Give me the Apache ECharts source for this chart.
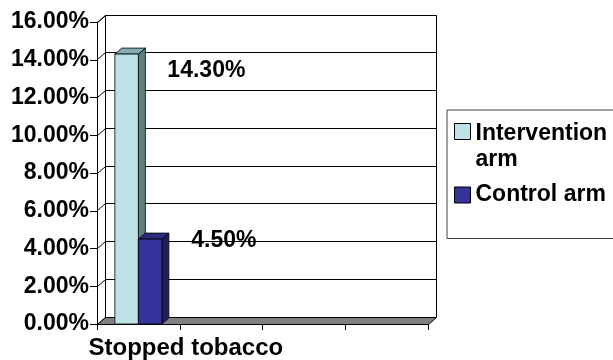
<!DOCTYPE html>
<html>
<head>
<meta charset="utf-8">
<script src="https://cdn.jsdelivr.net/npm/echarts@6/dist/echarts.min.js"></script>
<style>
  html, body { margin: 0; padding: 0; background: #fff; }
  #chart { width: 613px; height: 360px; }
</style>
</head>
<body>
<div id="chart"></div>
<script>
// Share of participants who stopped tobacco, by study arm (percent)
const categories = ['Stopped tobacco', '', '', ''];
const interventionArm = [14.3];
const controlArm = [4.5];
const seriesNames = ['Intervention arm', 'Control arm'];
const yTicks = [0, 2, 4, 6, 8, 10, 12, 14, 16];

const FONT = '"Liberation Sans", Arial, Helvetica, sans-serif';
const WALL_DEPTH = [8, -7];   // offset of the back wall from the front plane
const BAR_DEPTH = [7, -6];    // depth of each column
const BAR_RATIO = 0.284;      // column width relative to the category band

const crisp = v => Math.round(v - 0.5) + 0.5;

// Back wall, side wall, floor and the gridlines on the walls
function renderWalls(params, api) {
  const cs = params.coordSys;
  const [dx, dy] = WALL_DEPTH;
  const x0 = crisp(cs.x), x1 = crisp(cs.x + cs.width);
  const yTop = crisp(api.coord([0, yTicks[yTicks.length - 1]])[1]);
  const yBase = crisp(api.coord([0, 0])[1]);
  const children = [];
  children.push({
    type: 'rect',
    shape: { x: x0 + dx, y: yTop + dy, width: x1 - x0, height: yBase - yTop },
    style: { fill: '#fff', stroke: '#000', lineWidth: 1 }
  });
  children.push({
    type: 'polygon',
    shape: { points: [[x0, yTop], [x0 + dx, yTop + dy], [x0 + dx, yBase + dy], [x0, yBase]] },
    style: { fill: '#fff', stroke: '#000', lineWidth: 1 }
  });
  yTicks.forEach(v => {
    if (v === 0) return;
    const y = crisp(api.coord([0, v])[1]);
    children.push({
      type: 'polyline',
      shape: { points: [[x0, y], [x0 + dx, y + dy], [x1 + dx, y + dy]] },
      style: { fill: null, stroke: '#000', lineWidth: 1 }
    });
  });
  children.push({
    type: 'polygon',
    shape: { points: [[x0, yBase], [x1, yBase], [x1 + dx, yBase + dy], [x0 + dx, yBase + dy]] },
    style: { fill: '#808080', stroke: '#000', lineWidth: 1 }
  });
  return { type: 'group', children: children };
}

// 3D column with its value label
function columnRenderer(slot, slotCount, shades, labelOffset) {
  return function (params, api) {
    const cat = api.value(0);
    const val = api.value(1);
    const band = api.size([1, 0])[0];
    const w = band * BAR_RATIO;
    const center = api.coord([cat, 0])[0];
    const xL = center - w * slotCount / 2 + slot * w;
    const xR = xL + w;
    const yT = api.coord([cat, val])[1];
    const yB = api.coord([cat, 0])[1];
    const [dx, dy] = BAR_DEPTH;
    const edge = { stroke: '#000', lineWidth: 0.8 };
    return {
      type: 'group',
      children: [
        {
          type: 'polygon',
          shape: { points: [[xR, yT], [xR + dx, yT + dy], [xR + dx, yB + dy], [xR, yB]] },
          style: Object.assign({ fill: shades.side }, edge)
        },
        {
          type: 'polygon',
          shape: { points: [[xL, yT], [xR, yT], [xR + dx, yT + dy], [xL + dx, yT + dy]] },
          style: Object.assign({ fill: shades.top }, edge)
        },
        {
          type: 'rect',
          shape: { x: xL, y: yT, width: w, height: yB - yT },
          style: Object.assign({ fill: shades.front }, edge)
        },
        {
          type: 'text',
          x: xR + labelOffset[0],
          y: yT + labelOffset[1],
          style: {
            text: val.toFixed(2) + '%',
            font: 'bold 23px ' + FONT,
            fill: '#000',
            align: 'center',
            verticalAlign: 'middle'
          }
        }
      ]
    };
  };
}

const interventionShades = { front: '#BDE2E5', side: '#5E7F80', top: '#86AEB0' };
const controlShades = { front: '#333399', side: '#1E1E5C', top: '#2B2B80' };

const chart = echarts.init(document.getElementById('chart'), null, { renderer: 'canvas' });

chart.setOption({
  backgroundColor: '#fff',
  animation: false,
  grid: { left: 97, right: 185, top: 22, bottom: 35, containLabel: false },
  xAxis: {
    type: 'category',
    data: categories,
    boundaryGap: true,
    axisLine: { show: true, lineStyle: { color: '#000', width: 1 } },
    axisTick: { show: true, interval: 0, length: 6, lineStyle: { color: '#000' } },
    axisLabel: {
      interval: 0,
      margin: 12,
      formatter: v => v ? '{a|' + v + '}' : '',
      rich: {
        a: {
          fontFamily: FONT, fontWeight: 'bold', fontSize: 24, color: '#000',
          padding: [0, 0, 0, 95]
        }
      }
    },
    splitLine: { show: false }
  },
  yAxis: {
    type: 'value',
    min: 0,
    max: 16,
    interval: 2,
    axisLine: { show: true, lineStyle: { color: '#000', width: 1 } },
    axisTick: { show: true, inside: false, length: 7, lineStyle: { color: '#000' } },
    axisLabel: {
      margin: 8,
      formatter: v => v.toFixed(2) + '%',
      fontFamily: FONT, fontWeight: 'bold', fontSize: 23, color: '#000'
    },
    splitLine: { show: false }
  },
  legend: {
    orient: 'vertical',
    left: 447,
    top: 110,
    padding: [-20, 40, 32, 7],
    itemGap: 12,
    itemWidth: 16,
    itemHeight: 16,
    icon: 'rect',
    backgroundColor: '#fff',
    borderColor: '#404040',
    borderWidth: 1,
    itemStyle: { borderColor: '#000', borderWidth: 1 },
    data: seriesNames,
    formatter: name => {
      if (name.length > 12) {
        const cut = name.lastIndexOf(' ');
        return '{e| }\n{t|' + name.slice(0, cut) + '}\n{t|' + name.slice(cut + 1) + '}';
      }
      return '{t|' + name + '}';
    },
    textStyle: {
      color: '#000',
      rich: {
        t: { fontFamily: FONT, fontWeight: 'bold', fontSize: 23, lineHeight: 26, color: '#000' },
        e: { fontSize: 10, height: 31, lineHeight: 31 }
      }
    }
  },
  series: [
    {
      name: 'walls',
      type: 'custom',
      silent: true,
      z: 1,
      renderItem: renderWalls,
      data: [[0, 0]]
    },
    {
      name: seriesNames[0],
      type: 'custom',
      z: 3,
      itemStyle: { color: interventionShades.front },
      renderItem: columnRenderer(0, 2, interventionShades, [68, 17]),
      data: interventionArm.map((v, i) => [i, v])
    },
    {
      name: seriesNames[1],
      type: 'custom',
      z: 4,
      itemStyle: { color: controlShades.front },
      renderItem: columnRenderer(1, 2, controlShades, [62, 2]),
      data: controlArm.map((v, i) => [i, v])
    }
  ]
});
</script>
</body>
</html>
